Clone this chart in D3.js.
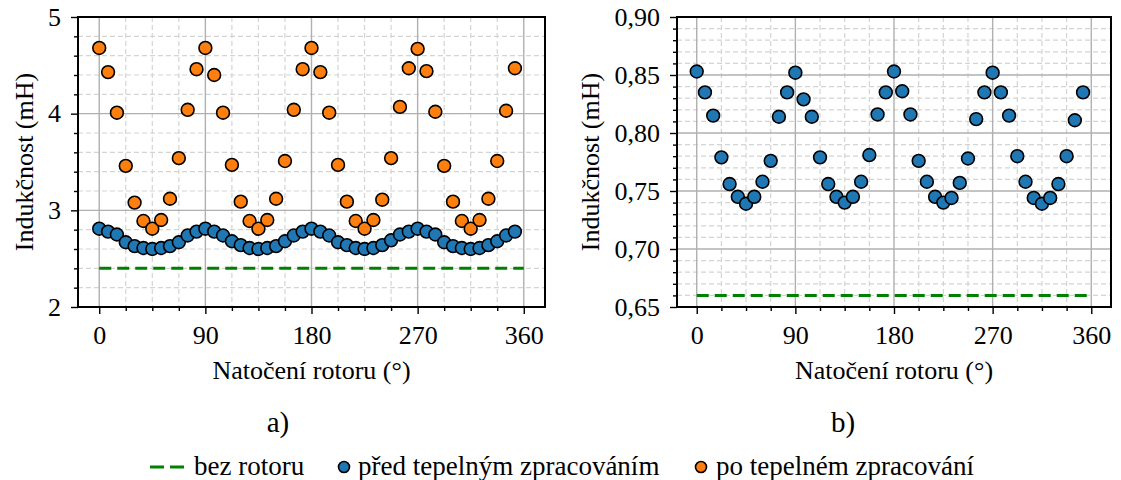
<!DOCTYPE html>
<html><head><meta charset="utf-8">
<script src="https://cdn.jsdelivr.net/npm/d3@7"></script>
<style>
html,body{margin:0;padding:0;background:#fff;}
svg{display:block;}
svg text{font-family:"Liberation Serif","Times New Roman",Times,serif !important;}
</style></head>
<body>
<svg id="chart" width="1121" height="480"></svg>
<script>
const angles = [0,7.5,15,22.5,30,37.5,45,52.5,60,67.5,75,82.5,
  90,97.5,105,112.5,120,127.5,135,142.5,150,157.5,165,172.5,
  180,187.5,195,202.5,210,217.5,225,232.5,240,247.5,255,262.5,
  270,277.5,285,292.5,300,307.5,315,322.5,330,337.5,345,352.5];

const leftBefore = [2.81,2.78,2.75,2.67,2.63,2.61,2.60,2.61,2.63,2.67,2.74,2.78,
  2.81,2.78,2.74,2.68,2.64,2.61,2.60,2.61,2.63,2.68,2.74,2.78,
  2.81,2.78,2.74,2.67,2.64,2.61,2.60,2.61,2.64,2.69,2.75,2.78,
  2.81,2.78,2.75,2.67,2.63,2.61,2.60,2.61,2.64,2.68,2.74,2.78];

const leftAfter = [4.68,4.43,4.01,3.46,3.08,2.89,2.81,2.90,3.12,3.54,4.04,4.46,
  4.68,4.40,4.01,3.47,3.09,2.89,2.81,2.90,3.12,3.51,4.04,4.46,
  4.68,4.43,4.01,3.47,3.09,2.89,2.81,2.90,3.11,3.54,4.07,4.47,
  4.67,4.44,4.02,3.46,3.09,2.89,2.81,2.90,3.12,3.51,4.03,4.47];

const rightBefore = [0.853,0.835,0.815,0.779,0.756,0.745,0.739,0.745,0.758,0.776,0.814,0.835,
  0.852,0.829,0.814,0.779,0.756,0.745,0.740,0.745,0.758,0.781,0.816,0.835,
  0.853,0.836,0.816,0.776,0.758,0.745,0.740,0.744,0.757,0.778,0.812,0.835,
  0.852,0.835,0.815,0.780,0.758,0.744,0.739,0.744,0.756,0.780,0.811,0.835];

const leftNoRotor = 2.40;
const rightNoRotor = 0.66;
const noRotorSpan = [0, 360];

const xTicks = [0, 90, 180, 270, 360];
const xMinor = [22.5,45,67.5,112.5,135,157.5,202.5,225,247.5,292.5,315,337.5];
const leftYTicks = [2, 3, 4, 5];
const leftYMinor = [2.2,2.4,2.6,2.8,3.2,3.4,3.6,3.8,4.2,4.4,4.6,4.8];
const rightYTicks = [0.65, 0.70, 0.75, 0.80, 0.85, 0.90];
const rightYMinor = [0.66,0.67,0.68,0.69,0.71,0.72,0.73,0.74,0.76,0.77,0.78,0.79,0.81,0.82,0.83,0.84,0.86,0.87,0.88,0.89];

const xLabel = "Natočení rotoru (°)";
const yLabel = "Indukčnost (mH)";
const legendLabels = ["bez rotoru", "před tepelným zpracováním", "po tepelném zpracování"];
const captions = ["a)", "b)"];

const C_BLUE = "#1f77b4", C_ORANGE = "#ff7f0e", C_GREEN = "#008000";
const svg = d3.select("#chart");
const FS = 26;

function txt(sel, size) {
  return sel.style("font-family", '"Liberation Serif", "Times New Roman", serif')
    .style("font-size", (size || FS) + "px").attr("fill", "#000");
}

function panel(opt) {
  const x = d3.scaleLinear().domain([-18, 378]).range([opt.left, opt.right]);
  const y = d3.scaleLinear().domain(opt.ydom).range([opt.bottom, opt.top]);
  const g = svg.append("g");
  g.selectAll(".mgx").data(xMinor).enter().append("line")
    .attr("x1", d => x(d)).attr("x2", d => x(d)).attr("y1", opt.top).attr("y2", opt.bottom)
    .attr("stroke", "#d4d4d4").attr("stroke-width", 1.2).attr("stroke-dasharray", "5,3");
  g.selectAll(".mgy").data(opt.yMinor).enter().append("line")
    .attr("y1", d => y(d)).attr("y2", d => y(d)).attr("x1", opt.left).attr("x2", opt.right)
    .attr("stroke", "#d4d4d4").attr("stroke-width", 1.2).attr("stroke-dasharray", "5,3");
  g.selectAll(".Mgx").data(xTicks).enter().append("line")
    .attr("x1", d => x(d)).attr("x2", d => x(d)).attr("y1", opt.top).attr("y2", opt.bottom)
    .attr("stroke", "#b0b0b0").attr("stroke-width", 1.4);
  g.selectAll(".Mgy").data(opt.yTicks).enter().append("line")
    .attr("y1", d => y(d)).attr("y2", d => y(d)).attr("x1", opt.left).attr("x2", opt.right)
    .attr("stroke", "#b0b0b0").attr("stroke-width", 1.4);

  g.append("line")
    .attr("x1", x(noRotorSpan[0])).attr("x2", x(noRotorSpan[1]))
    .attr("y1", y(opt.noRotor)).attr("y2", y(opt.noRotor))
    .attr("stroke", C_GREEN).attr("stroke-width", 3).attr("stroke-dasharray", "12,6");

  opt.series.forEach(s => {
    g.selectAll(null).data(s.values).enter().append("circle")
      .attr("cx", (d, i) => x(angles[i])).attr("cy", d => y(d)).attr("r", 6.4)
      .attr("fill", s.color).attr("stroke", "#000").attr("stroke-width", 1.6);
  });

  const xAxis = d3.axisBottom(x).tickValues(xTicks).tickSize(7).tickPadding(8).tickFormat(d3.format("d"));
  const xAxisMinor = d3.axisBottom(x).tickValues(xMinor).tickSize(4).tickFormat("");
  const yAxis = d3.axisLeft(y).tickValues(opt.yTicks).tickSize(7).tickPadding(10).tickFormat(opt.fmt);
  const yAxisMinor = d3.axisLeft(y).tickValues(opt.yMinor).tickSize(4).tickFormat("");

  const gx = g.append("g").attr("transform", `translate(0,${opt.bottom})`).call(xAxis);
  const gxm = g.append("g").attr("transform", `translate(0,${opt.bottom})`).call(xAxisMinor);
  const gy = g.append("g").attr("transform", `translate(${opt.left},0)`).call(yAxis);
  const gym = g.append("g").attr("transform", `translate(${opt.left},0)`).call(yAxisMinor);
  [gx, gxm, gy, gym].forEach(a => {
    a.attr("font-family", null).attr("font-size", null);
    a.select(".domain").remove();
    a.selectAll("line").attr("stroke", "#000").attr("stroke-width", 1.4);
    txt(a.selectAll("text"));
  });
  gx.selectAll("text").attr("dy", "0.85em");

  g.append("rect").attr("x", opt.left).attr("y", opt.top)
    .attr("width", opt.right - opt.left).attr("height", opt.bottom - opt.top)
    .attr("fill", "none").attr("stroke", "#000").attr("stroke-width", 2);

  txt(g.append("text")).attr("x", (opt.left + opt.right) / 2).attr("y", 379)
    .attr("text-anchor", "middle").text(xLabel);
  txt(g.append("text")).attr("transform", `translate(${opt.ylabX},${(opt.top + opt.bottom) / 2}) rotate(-90)`)
    .attr("text-anchor", "middle").text(yLabel);
  txt(g.append("text"), 29).attr("x", opt.capX).attr("y", 432)
    .attr("text-anchor", "middle").text(opt.caption);
}

panel({left: 78, right: 545, top: 17, bottom: 307, ydom: [2, 5],
  yTicks: leftYTicks, yMinor: leftYMinor, fmt: d3.format("d"), noRotor: leftNoRotor,
  series: [{values: leftBefore, color: C_BLUE}, {values: leftAfter, color: C_ORANGE}],
  ylabX: 33, capX: 278, caption: captions[0]});

const commaFmt = v => d3.format(".2f")(v).replace(".", ",");
panel({left: 677, right: 1111, top: 17, bottom: 307, ydom: [0.65, 0.90],
  yTicks: rightYTicks, yMinor: rightYMinor, fmt: commaFmt, noRotor: rightNoRotor,
  series: [{values: rightBefore, color: C_BLUE}],
  ylabX: 599, capX: 843, caption: captions[1]});

const LFS = 27;
const lg = svg.append("g");
lg.append("line").attr("x1", 150).attr("x2", 185).attr("y1", 467).attr("y2", 467)
  .attr("stroke", C_GREEN).attr("stroke-width", 3).attr("stroke-dasharray", "14,6");
txt(lg.append("text"), LFS).attr("x", 194).attr("y", 475).text(legendLabels[0]);
lg.append("circle").attr("cx", 344).attr("cy", 467).attr("r", 5.5)
  .attr("fill", C_BLUE).attr("stroke", "#000").attr("stroke-width", 1.6);
txt(lg.append("text"), LFS).attr("x", 358).attr("y", 475).text(legendLabels[1]);
lg.append("circle").attr("cx", 701).attr("cy", 467).attr("r", 5.5)
  .attr("fill", C_ORANGE).attr("stroke", "#000").attr("stroke-width", 1.6);
txt(lg.append("text"), LFS).attr("x", 716).attr("y", 475).text(legendLabels[2]);
</script>
</body></html>
